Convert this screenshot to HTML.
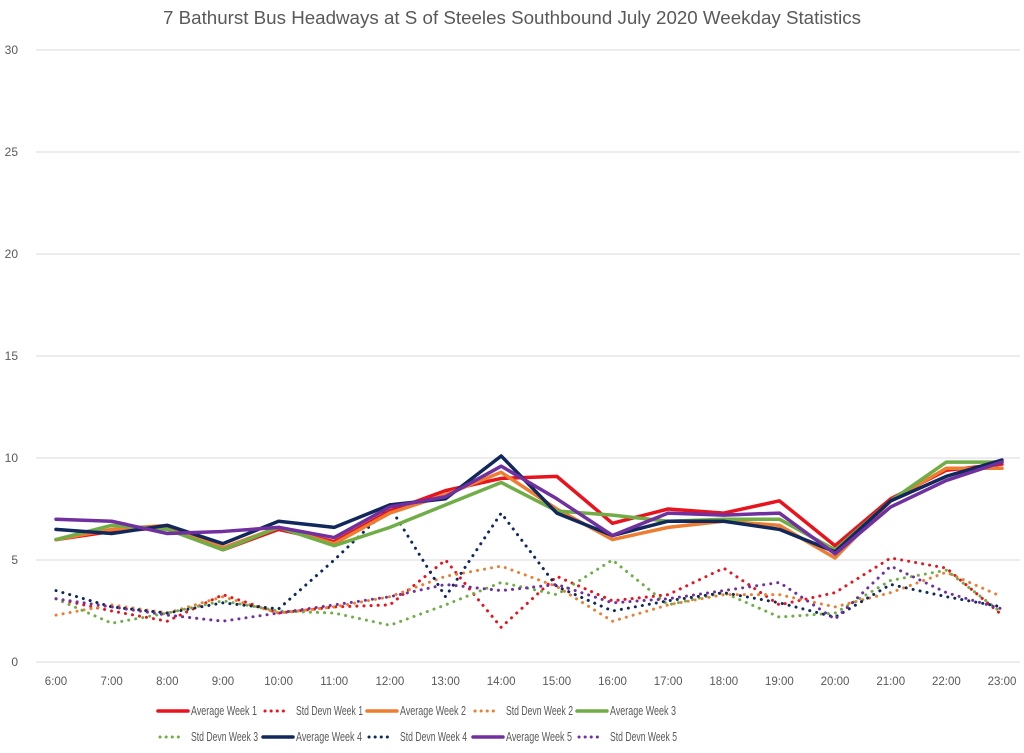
<!DOCTYPE html>
<html><head><meta charset="utf-8"><style>
body{margin:0;background:#fff;}
svg{display:block;font-family:"Liberation Sans",sans-serif;}
</style></head><body>
<svg id="chart" width="1024" height="753">
<text x="163" y="24" textLength="698" lengthAdjust="spacingAndGlyphs" font-size="18" fill="#595959">7 Bathurst Bus Headways at S of Steeles Southbound July 2020 Weekday Statistics</text>
<g id="grid"></g><g id="series"></g><g id="legend"></g>
</svg>
<script>
const categories=["6:00","7:00","8:00","9:00","10:00","11:00","12:00","13:00","14:00","15:00","16:00","17:00","18:00","19:00","20:00","21:00","22:00","23:00"];
const yTicks=[0,5,10,15,20,25,30];
const seriesNames=["Average Week 1","Std Devn Week 1","Average Week 2","Std Devn Week 2","Average Week 3","Std Devn Week 3","Average Week 4","Std Devn Week 4","Average Week 5","Std Devn Week 5"];
const avgW1=[6.0,6.4,6.6,5.5,6.5,5.9,7.4,8.4,9.0,9.1,6.8,7.5,7.3,7.9,5.7,8.0,9.4,9.7];
const sdW1=[3.1,2.5,2.0,3.3,2.4,2.7,2.8,5.0,1.7,4.2,3.0,3.3,4.6,2.8,3.4,5.1,4.6,2.3];
const avgW2=[6.0,6.5,6.7,5.6,6.6,5.8,7.3,8.2,9.3,7.5,6.0,6.6,6.9,6.7,5.1,7.9,9.5,9.5];
const sdW2=[2.3,2.8,2.4,3.2,2.4,2.7,3.2,4.2,4.7,3.7,2.0,2.8,3.3,3.3,2.7,3.4,4.4,3.2];
const avgW3=[6.0,6.7,6.5,5.5,6.6,5.7,6.6,7.7,8.8,7.4,7.2,6.9,7.0,7.0,5.5,7.9,9.8,9.8];
const sdW3=[3.1,1.9,2.4,3.0,2.5,2.4,1.8,2.8,3.9,3.3,5.0,2.8,3.4,2.2,2.4,4.0,4.5,2.4];
const avgW4=[6.5,6.3,6.7,5.8,6.9,6.6,7.7,8.0,10.1,7.3,6.2,6.9,6.9,6.5,5.4,7.9,9.1,9.9];
const sdW4=[3.5,2.7,2.4,2.9,2.6,5.0,7.6,3.2,7.3,3.7,2.5,3.0,3.4,2.9,2.2,3.8,3.2,2.7];
const avgW5=[7.0,6.9,6.3,6.4,6.6,6.1,7.6,8.1,9.6,8.0,6.2,7.3,7.2,7.3,5.3,7.6,8.9,9.8];
const sdW5=[3.1,2.7,2.3,2.0,2.4,2.8,3.2,3.8,3.5,3.8,2.9,3.1,3.5,3.9,2.1,4.7,3.4,2.6];

const NS="http://www.w3.org/2000/svg";
const X0=56,X1=1002,Y0=662,Y1=50,YMAX=30;
const xs=i=>X0+(X1-X0)*i/(categories.length-1);
const ys=v=>Y0-(Y0-Y1)*v/YMAX;
function mk(tag,attrs,parent){const e=document.createElementNS(NS,tag);for(const k in attrs)e.setAttribute(k,attrs[k]);parent.appendChild(e);return e;}
const grid=document.getElementById('grid'),ser=document.getElementById('series'),leg=document.getElementById('legend');
yTicks.forEach(t=>{
  const l=mk('line',{x1:36,x2:1020,y1:ys(t),y2:ys(t),stroke:'#d9d9d9','stroke-width':1},grid);
  
  
  const tx=mk('text',{x:18,y:ys(t)+4,'text-anchor':'end','font-size':12,fill:'#595959'},grid);
  tx.textContent=t;
  
  
});
categories.forEach((c,i)=>{
  const tx=mk('text',{x:xs(i),y:685,'text-anchor':'middle','font-size':11.5,fill:'#595959'},grid);
  tx.textContent=c;
  
  
});
const colors=['#e8131c','#e8131c','#ed7d31','#ed7d31','#70ad47','#70ad47','#10285c','#10285c','#7030a0','#7030a0'];
const data=[avgW1,sdW1,avgW2,sdW2,avgW3,sdW3,avgW4,sdW4,avgW5,sdW5];
const order=[1,3,5,7,9,0,2,4,6,8];
order.forEach(k=>{
  const dotted=k%2===1;
  const pts=data[k].map((v,i)=>xs(i)+','+ys(v)).join(' ');
  const p=mk('polyline',{points:pts,fill:'none',stroke:colors[k],'stroke-width':dotted?3:3.5,'stroke-linejoin':'round','stroke-linecap':'round'},ser);
  if(dotted)p.setAttribute('stroke-dasharray','0.1 7');
  
  
});
const colX=[158,263,367,473,577];
seriesNames.forEach((n,k)=>{
  const row=Math.floor(k/5),col=k%5;
  const y=row?737:711,x=colX[col];
  const dotted=k%2===1;
  const g=mk('g',{},leg);
  
  
  const l=mk('line',{x1:dotted?x+2:x,x2:dotted?x+26:x+30,y1:y,y2:y,stroke:colors[k],'stroke-width':dotted?3:3.5,'stroke-linecap':'round'},g);
  if(dotted)l.setAttribute('stroke-dasharray','0.1 6');
  const t=mk('text',{x:x+33,y:y+4,'font-size':12.5,fill:'#595959',textLength:dotted?67:66,lengthAdjust:'spacingAndGlyphs'},g);
  t.textContent=n;
});
</script>
</body></html>
